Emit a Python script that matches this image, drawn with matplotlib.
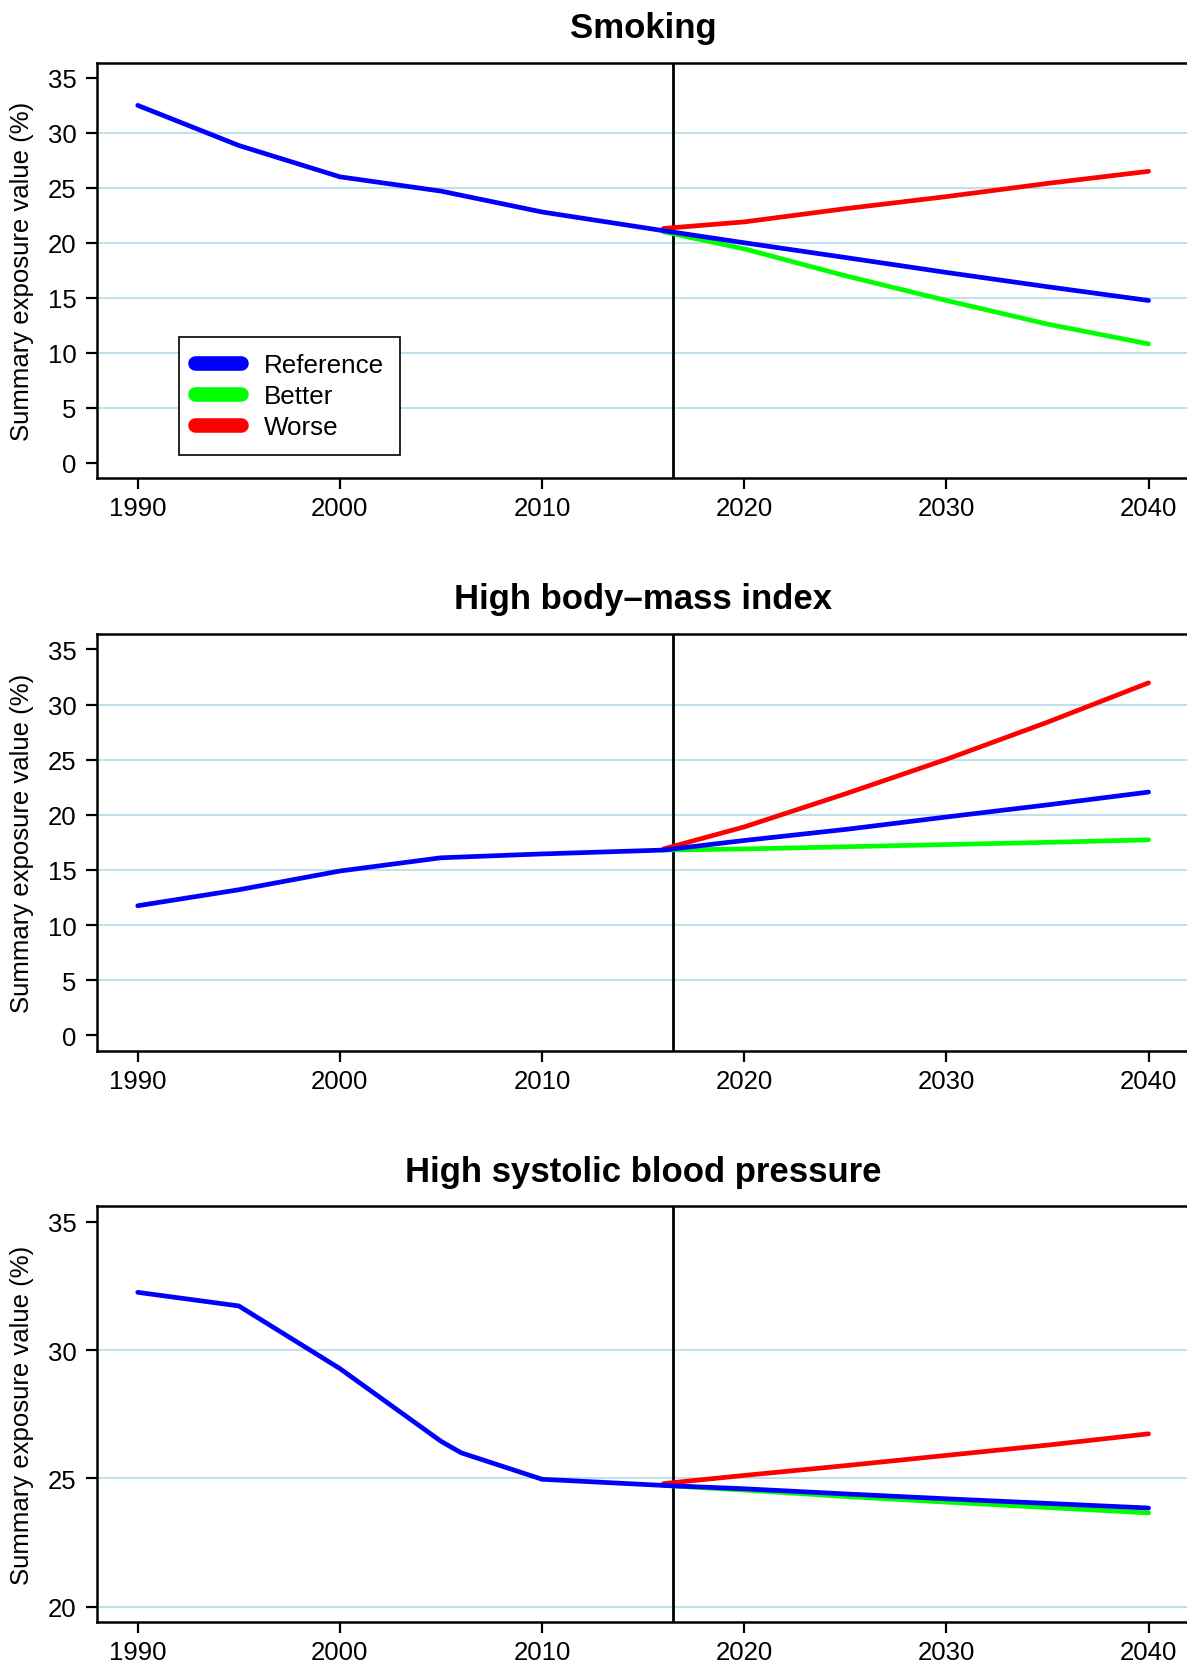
import matplotlib

matplotlib.use("Agg")
import matplotlib.pyplot as plt
from matplotlib.lines import Line2D

plt.rcParams["font.family"] = ["Liberation Sans", "DejaVu Sans"]

# ── data ────────────────────────────────────────────────────────────────
titles = ["Smoking", "High body\u2013mass index", "High systolic blood pressure"]
ylabel = "Summary exposure value (%)"
scenario_names = ["Reference", "Better", "Worse"]
scenario_colors = ["#0000FF", "#00FF00", "#FF0000"]

forecast_years = [2016, 2020, 2025, 2030, 2035, 2040]
cut_year = 2016.5

smoking_hist_years = [1990, 1995, 2000, 2005, 2010, 2016]
smoking_hist = [32.5, 28.85, 26.0, 24.7, 22.8, 21.1]
smoking_ref = [21.1, 20.0, 18.66, 17.3, 16.0, 14.75]
smoking_better = [21.0, 19.45, 17.0, 14.75, 12.6, 10.8]
smoking_worse = [21.3, 21.9, 23.1, 24.2, 25.4, 26.5]

bmi_hist_years = [1990, 1995, 2000, 2005, 2010, 2016]
bmi_hist = [11.75, 13.2, 14.9, 16.1, 16.45, 16.8]
bmi_ref = [16.8, 17.67, 18.67, 19.8, 20.9, 22.06]
bmi_better = [16.8, 16.9, 17.1, 17.3, 17.5, 17.73]
bmi_worse = [16.9, 18.9, 21.9, 25.03, 28.4, 31.97]

sbp_hist_years = [1990, 1995, 2000, 2005, 2006, 2010, 2016]
sbp_hist = [32.25, 31.72, 29.28, 26.45, 26.0, 24.97, 24.73]
sbp_ref = [24.73, 24.6, 24.4, 24.21, 24.03, 23.85]
sbp_better = [24.73, 24.55, 24.3, 24.08, 23.87, 23.66]
sbp_worse = [24.8, 25.12, 25.5, 25.9, 26.3, 26.74]

ylims = [(-1.4, 36.4), (-1.4, 36.4), (19.4, 35.6)]
yticks = [list(range(0, 40, 5)), list(range(0, 40, 5)), [20, 25, 30, 35]]
grid_vals = [list(range(5, 35, 5)), list(range(5, 35, 5)), [20, 25, 30]]
xticks = [1990, 2000, 2010, 2020, 2030, 2040]

panels = [
    (smoking_hist_years, smoking_hist, smoking_ref, smoking_better, smoking_worse),
    (bmi_hist_years, bmi_hist, bmi_ref, bmi_better, bmi_worse),
    (sbp_hist_years, sbp_hist, sbp_ref, sbp_better, sbp_worse),
]

# ── layout ──────────────────────────────────────────────────────────────
W, H = 1187, 1665
fig = plt.figure(figsize=(W / 100, H / 100), dpi=100)
left = 97.3 / W
width = (1189 - 97.3) / W
boxes = [(63.5, 479.0), (635.0, 1051.7), (1207.3, 1623.3)]  # top, bottom in px

FS = 18.5
for i, ((top, bot), (hy, hv, ref, better, worse)) in enumerate(zip(boxes, panels)):
    ax = fig.add_axes([left, 1 - bot / H, width, (bot - top) / H])
    for g in grid_vals[i]:
        ax.axhline(g, color="#ADD8E6", lw=1.1, zorder=1)
    ax.axvline(cut_year, color="black", lw=2, zorder=2)

    kw = dict(lw=3.4, solid_capstyle="round", solid_joinstyle="round", zorder=3)
    ax.plot(forecast_years, better, color=scenario_colors[1], **kw)
    ax.plot(forecast_years, worse, color=scenario_colors[2], **kw)
    ax.plot(hy + forecast_years[1:], hv + ref[1:], color=scenario_colors[0], **kw)

    ax.set_xlim(1988, 2042)
    ax.set_ylim(*ylims[i])
    ax.set_xticks(xticks)
    ax.set_yticks(yticks[i])
    ax.tick_params(axis="both", labelsize=FS, width=1.6, length=8, color="black")
    ax.tick_params(axis="y", pad=7)
    ax.tick_params(axis="x", pad=5)
    for s in ax.spines.values():
        s.set_linewidth(1.8)
    ax.set_ylabel(ylabel, fontsize=FS, labelpad=10)
    ax.set_title(titles[i], fontsize=25, fontweight="bold", pad=18.5)

    if i == 0:
        handles = [
            Line2D([], [], color=c, lw=10.5, solid_capstyle="round")
            for c in scenario_colors
        ]
        leg = ax.legend(
            handles, scenario_names,
            loc="lower left", bbox_to_anchor=(0.0745, 0.056),
            fontsize=18.7, frameon=True, fancybox=False, framealpha=1,
            edgecolor="black", handlelength=1.8, handletextpad=0.85,
            borderpad=0.62, labelspacing=0.27, borderaxespad=0,
        )
        leg.get_frame().set_linewidth(1.2)

fig.savefig("out.png", dpi=100)
